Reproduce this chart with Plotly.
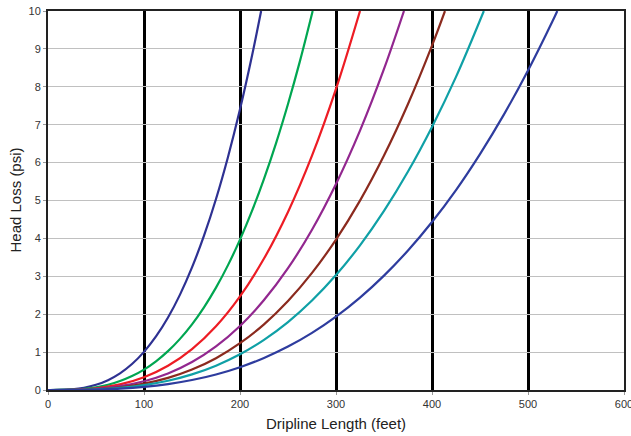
import plotly.graph_objects as go

x_c1 = [0, 12.5, 25, 37.5, 50, 62.5, 75, 87.5, 100, 112.5, 125, 137.5, 150, 162.5, 175, 187.5, 200, 212.5, 222]
y_c1 = [0, 0.0025, 0.019, 0.060, 0.137, 0.260, 0.439, 0.685, 1.006, 1.412, 1.912, 2.517, 3.234, 4.073, 5.041, 6.150, 7.406, 8.819, 10.0]

x_c2 = [0, 12.5, 25, 37.5, 50, 62.5, 75, 87.5, 100, 112.5, 125, 137.5, 150, 162.5, 175, 187.5, 200, 212.5, 225, 237.5, 250, 262.5, 275.7]
y_c2 = [0, 0.0014, 0.0099, 0.032, 0.0733, 0.139, 0.2354, 0.367, 0.539, 0.757, 1.025, 1.349, 1.733, 2.182, 2.701, 3.295, 3.968, 4.725, 5.571, 6.508, 7.545, 8.684, 10.0]

x_c3 = [0, 25, 50, 75, 100, 125, 150, 175, 200, 225, 250, 275, 300, 325]
y_c3 = [0, 0.0062, 0.0456, 0.1466, 0.336, 0.638, 1.079, 1.682, 2.471, 3.468, 4.698, 6.182, 7.944, 10.0]

x_c4 = [0, 25, 50, 75, 100, 125, 150, 175, 200, 225, 250, 275, 300, 325, 350, 370.8]
y_c4 = [0, 0.0042, 0.0312, 0.1003, 0.230, 0.436, 0.738, 1.151, 1.690, 2.373, 3.214, 4.229, 5.435, 6.842, 8.470, 10.0]

x_c5 = [0, 25, 50, 75, 100, 125, 150, 175, 200, 225, 250, 275, 300, 325, 350, 375, 400, 413.5]
y_c5 = [0, 0.0031, 0.0228, 0.0732, 0.168, 0.319, 0.539, 0.840, 1.235, 1.733, 2.348, 3.089, 3.969, 4.997, 6.187, 7.547, 9.088, 10.0]

x_c6 = [0, 25, 50, 75, 100, 125, 150, 175, 200, 225, 250, 275, 300, 325, 350, 375, 400, 425, 454]
y_c6 = [0, 0.0024, 0.0174, 0.0559, 0.128, 0.244, 0.412, 0.642, 0.943, 1.324, 1.793, 2.360, 3.032, 3.817, 4.726, 5.765, 6.942, 8.262, 10.0]

x_c7 = [0, 25, 50, 75, 100, 125, 150, 175, 200, 225, 250, 275, 300, 325, 350, 375, 400, 425, 450, 475, 500, 525, 530.5]
y_c7 = [0, 0.0015, 0.0111, 0.0357, 0.082, 0.156, 0.263, 0.410, 0.602, 0.845, 1.145, 1.507, 1.936, 2.438, 3.018, 3.681, 4.433, 5.276, 6.225, 7.272, 8.429, 9.701, 10.0]

series = [
    (x_c1, y_c1, "#2e3192"),
    (x_c2, y_c2, "#00a651"),
    (x_c3, y_c3, "#ed1c24"),
    (x_c4, y_c4, "#92278f"),
    (x_c5, y_c5, "#8b2a1e"),
    (x_c6, y_c6, "#0fa0a6"),
    (x_c7, y_c7, "#2e3c9e"),
]

x_ticks = [0, 100, 200, 300, 400, 500, 600]
y_ticks = [0, 1, 2, 3, 4, 5, 6, 7, 8, 9, 10]

fig = go.Figure()
for xs, ys, c in series:
    fig.add_trace(go.Scatter(x=xs, y=ys, mode="lines",
                             line=dict(color=c, width=2.2, shape="spline", smoothing=1.0),
                             showlegend=False, hoverinfo="skip"))

# figure slightly wider than the window so the "600" label is cut at the window edge like the reference
fig.update_layout(
    width=640, height=436,
    margin=dict(l=48, r=16, t=11, b=46),
    paper_bgcolor="white", plot_bgcolor="white",
    font=dict(family="Liberation Sans, Arial, sans-serif", size=11, color="#333333"),
    annotations=[
        dict(text="Dripline Length (feet)", xref="paper", yref="paper", x=0.5, y=0,
             yshift=-33, yanchor="middle", showarrow=False,
             font=dict(size=15, color="#222222")),
        dict(text="Head Loss (psi)", xref="paper", yref="paper", x=0, y=0.5,
             xshift=-33, textangle=-90, xanchor="center", showarrow=False,
             font=dict(size=15, color="#222222")),
    ],
)
fig.update_xaxes(
    range=[0, 600], tickvals=x_ticks, ticktext=[str(v) for v in x_ticks],
    showgrid=True, gridcolor="black", gridwidth=3,
    showline=True, linecolor="#222222", linewidth=2, mirror=True,
    ticks="outside", ticklen=3, tickcolor="#999999",
    zeroline=False, automargin=False,
)
fig.update_yaxes(
    range=[0, 10], tickvals=y_ticks, ticktext=[str(v) for v in y_ticks],
    showgrid=True, gridcolor="#c0c0c0", gridwidth=1,
    showline=True, linecolor="#222222", linewidth=2, mirror=True,
    ticks="outside", ticklen=3, tickcolor="#999999",
    zeroline=False, automargin=False,
)

# remove the page body's default 8px margin so the figure starts at the window corner
fig.write_html("out.html", config={"displayModeBar": False},
               post_script="document.body.style.margin='0';document.body.style.overflow='hidden';")
